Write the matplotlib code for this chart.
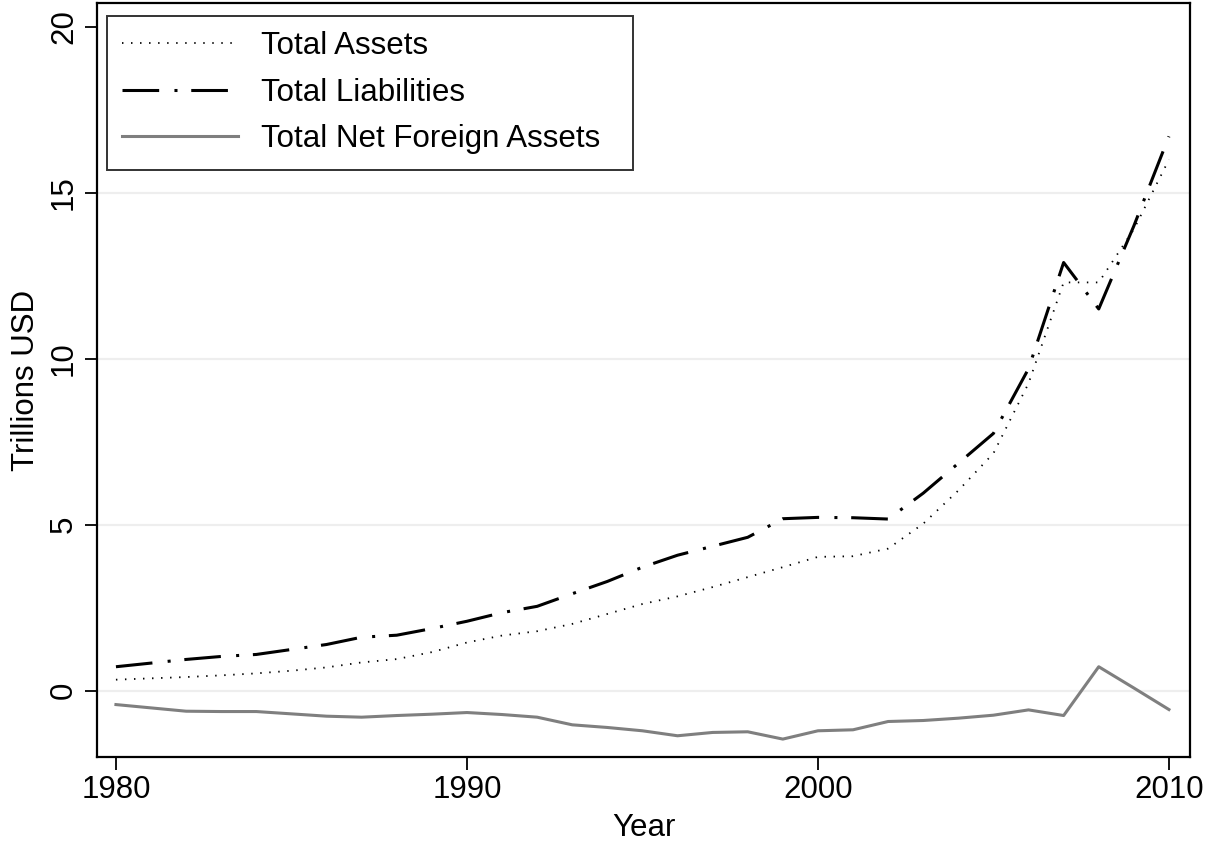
import numpy as np
import matplotlib
matplotlib.use("Agg")
import matplotlib.pyplot as plt

years = list(range(1980, 2011))

# trillions USD
total_assets = [0.33, 0.37, 0.41, 0.46, 0.52, 0.60, 0.70, 0.85, 0.95, 1.16,
                1.45, 1.66, 1.79, 2.01, 2.31, 2.61, 2.84, 3.12, 3.42, 3.72,
                4.03, 4.05, 4.28, 5.03, 6.03, 7.15, 9.26, 12.3, 12.3, 13.9,
                16.0]
total_liabilities = [0.72, 0.83, 0.94, 1.03, 1.09, 1.24, 1.39, 1.61, 1.67, 1.87,
                     2.09, 2.35, 2.54, 2.92, 3.29, 3.72, 4.08, 4.35, 4.62, 5.18,
                     5.22, 5.21, 5.17, 5.95, 6.85, 7.75, 9.70, 12.9, 11.5, 14.0,
                     16.7]
net_foreign_assets = [-0.42, -0.52, -0.62, -0.63, -0.63, -0.70, -0.77, -0.80, -0.75, -0.71,
                      -0.66, -0.72, -0.80, -1.03, -1.11, -1.21, -1.36, -1.26, -1.24, -1.46,
                      -1.21, -1.18, -0.93, -0.90, -0.83, -0.74, -0.58, -0.75, 0.72, 0.08,
                      -0.57]

x_ticks = [1980, 1990, 2000, 2010]
y_ticks = [0, 5, 10, 15, 20]
grid_lines = [0, 5, 10, 15]


def main():
    plt.rcParams['font.family'] = ['Liberation Sans', 'DejaVu Sans']
    fs = 22.5

    fig = plt.figure(figsize=(12.2, 8.48), dpi=100)
    ax = fig.add_axes([0.0795, 0.1073, 0.8959, 0.8892])

    # light horizontal grid like the stata default
    for yt in grid_lines:
        ax.axhline(yt, color="#eeeeee", lw=1.6, zorder=0)

    l1, = ax.plot(years, total_assets, color="k", lw=1.3, dashes=(0.8, 4.2))
    l2, = ax.plot(years, total_liabilities, color="k", lw=2.2, dashes=(12, 5, 1, 4.5))
    l3, = ax.plot(years, net_foreign_assets, color="#7f7f7f", lw=2.2)

    ax.set_xlim(1979.46, 2010.6)
    ax.set_ylim(-2.0, 20.72)
    ax.set_xticks(x_ticks)
    ax.set_yticks(y_ticks)
    ax.tick_params(axis="both", direction="out", length=9, width=1.3, labelsize=fs, pad=4)
    for lab in ax.get_yticklabels():
        lab.set_rotation(90)
        lab.set_va("center")
    for sp in ax.spines.values():
        sp.set_linewidth(1.6)

    ax.set_xlabel("Year", fontsize=fs, labelpad=6)
    ax.set_ylabel("Trillions USD", fontsize=fs, labelpad=6)

    # trailing spaces give the box the extra room on the right seen in the original
    leg = ax.legend([l1, l2, l3],
                    ["Total Assets", "Total Liabilities", "Total Net Foreign Assets  "],
                    loc="upper left", fontsize=fs, frameon=True, fancybox=False,
                    edgecolor="k", handlelength=3.7, handletextpad=0.72,
                    borderpad=0.5, labelspacing=0.52,
                    bbox_to_anchor=(0.009, 0.983), borderaxespad=0)
    leg.get_frame().set_linewidth(1.4)

    plt.savefig("out.png", dpi=100)
    print("Output file saved to out.png.")


if __name__ == "__main__":
    main()
